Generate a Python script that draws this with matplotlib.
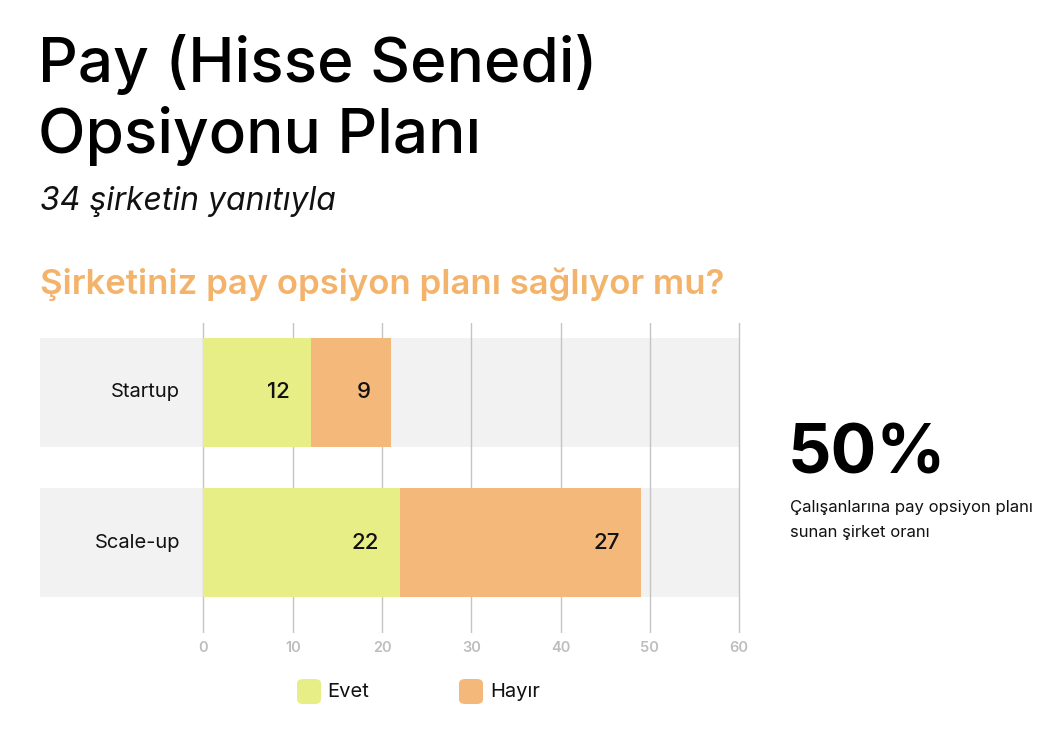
import matplotlib
matplotlib.use("Agg")
import matplotlib.pyplot as plt
from matplotlib.patches import Rectangle, FancyBboxPatch

categories = ["Startup", "Scale-up"]
evet = [12, 22]
hayir = [9, 27]
xticks = [0, 10, 20, 30, 40, 50, 60]
series_names = ["Evet", "Hayır"]

C_EVET = "#E8EE86"
C_HAYIR = "#F4B87B"
C_BAND = "#F2F2F2"
C_GRID = "#C4C4C4"
C_TICK = "#BDBDBD"
C_Q = "#F4B36B"

FONT = "Inter"
plt.rcParams['font.family'] = [FONT, 'DejaVu Sans']

W, H = 1064, 742
fig = plt.figure(figsize=(W / 100, H / 100), dpi=100)

def fx(px):
    return px / W

def fy(py):
    return 1 - py / H

x0px, x60px = 203.5, 739.0
ppu = (x60px - x0px) / 60.0
left_px = 40.0
xmin = (left_px - x0px) / ppu
ax = fig.add_axes([fx(left_px), fy(633), fx(x60px + 2) - fx(left_px), fy(323) - fy(633)])
ax.set_xlim(xmin, 60 + 2 / ppu)
ax.set_ylim(1.603, -0.463)
ax.axis("off")

band_h = 109 / 150.0
for i, cat in enumerate(categories):
    ax.add_patch(Rectangle((xmin, i - band_h / 2), 60 - xmin, band_h,
                           facecolor=C_BAND, edgecolor="none", zorder=0))

for t in xticks:
    ax.axvline(t, color=C_GRID, lw=1.0, zorder=1)
    ax.text(t, 1.603 + 8 / 150, str(t), ha="center", va="top",
            fontsize=10.5, color=C_TICK, fontweight="semibold", clip_on=False)

ax.barh(range(len(categories)), evet, height=band_h, color=C_EVET, zorder=2)
ax.barh(range(len(categories)), hayir, left=evet, height=band_h, color=C_HAYIR, zorder=2)

off = 2.3
for i, cat in enumerate(categories):
    ax.text(-2.6, i, cat, ha="right", va="center", fontsize=14.5, color="#111111")
    ax.text(evet[i] - off, i, str(evet[i]), ha="right", va="center",
            fontsize=16, color="#111111", zorder=3, fontweight="medium")
    ax.text(evet[i] + hayir[i] - off, i, str(hayir[i]), ha="right", va="center",
            fontsize=16, color="#111111", zorder=3, fontweight="medium")

# titles
fig.text(fx(38), fy(82), "Pay (Hisse Senedi)", ha="left", va="baseline",
         fontsize=44.7, color="#000000", fontweight="medium")
fig.text(fx(38), fy(153), "Opsiyonu Planı", ha="left", va="baseline",
         fontsize=44.7, color="#000000", fontweight="medium")
fig.text(fx(40), fy(210), "34 şirketin yanıtıyla", ha="left", va="baseline",
         fontsize=23, color="#111111", style="italic")
fig.text(fx(40), fy(294), "Şirketiniz pay opsiyon planı sağlıyor mu?", ha="left", va="baseline",
         fontsize=25, color=C_Q, fontweight="semibold")

# big stat
fig.text(fx(788), fy(474), "50%", ha="left", va="baseline",
         fontsize=49, color="#000000", fontweight="bold")
fig.text(fx(790), fy(512), "Çalışanlarına pay opsiyon planı", ha="left", va="baseline",
         fontsize=12, color="#111111")
fig.text(fx(790), fy(537), "sunan şirket oranı", ha="left", va="baseline",
         fontsize=12, color="#111111")

# legend
for (sx, tx, name, col) in [(297, 327, series_names[0], C_EVET), (459, 490, series_names[1], C_HAYIR)]:
    p = FancyBboxPatch((fx(sx), fy(704)), fx(24), fy(679) - fy(704),
                       boxstyle="round,pad=0,rounding_size=0.006",
                       transform=fig.transFigure, facecolor=col, edgecolor="none")
    fig.patches.append(p)
    fig.text(fx(tx), fy(692), name, ha="left", va="center", fontsize=14.5, color="#111111")

fig.savefig("out.png", dpi=100)
